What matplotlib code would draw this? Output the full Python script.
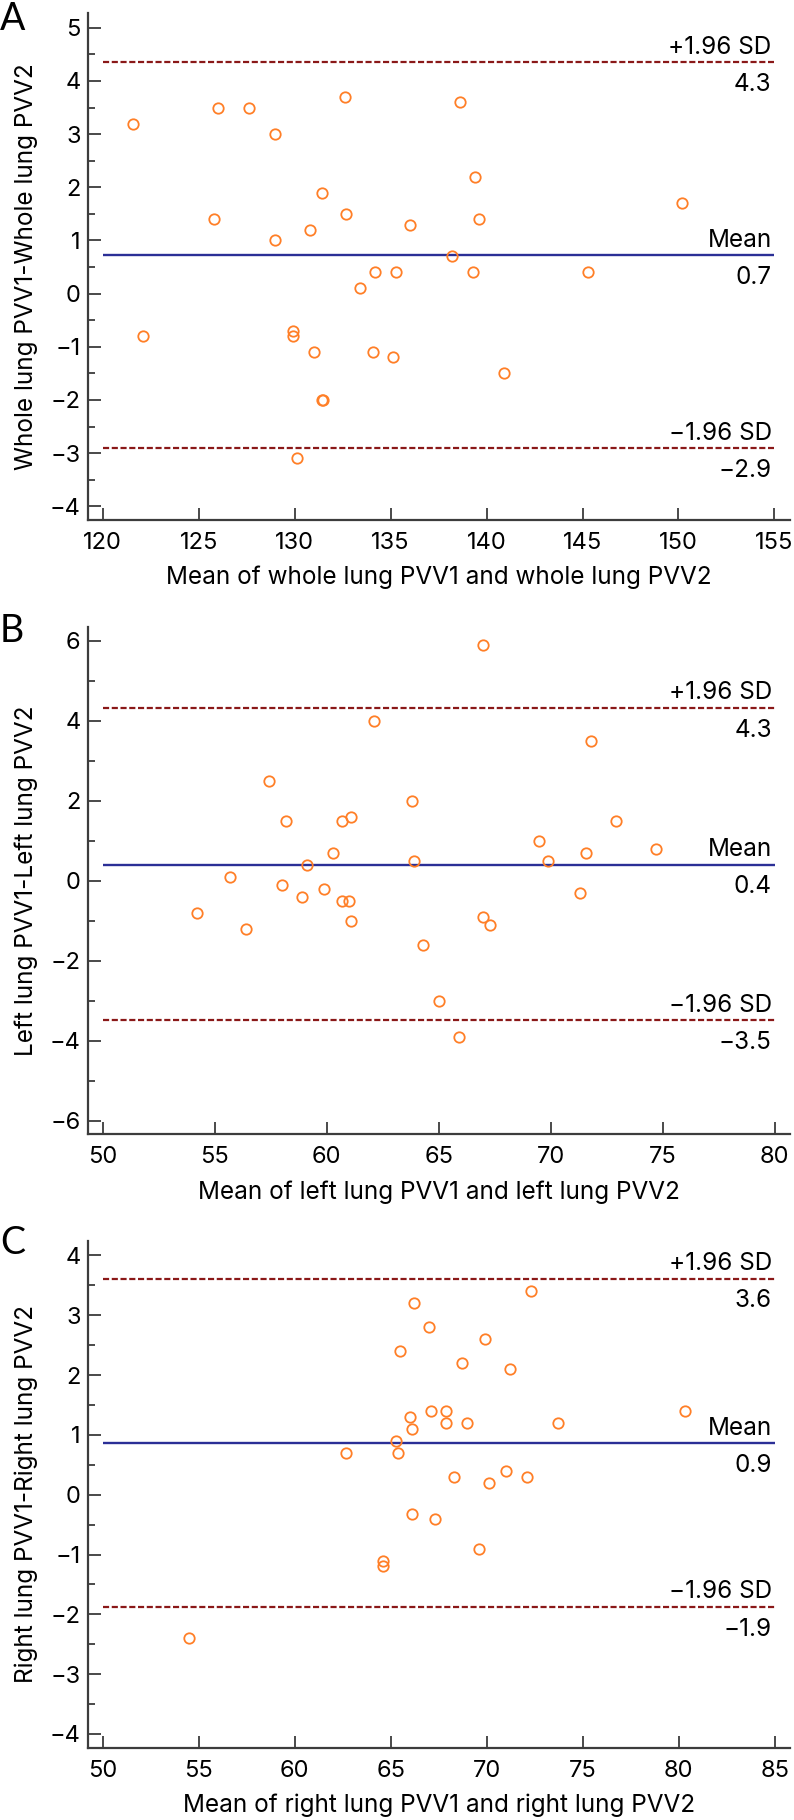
import matplotlib
matplotlib.use("Agg")
import matplotlib.pyplot as plt
from matplotlib.ticker import MultipleLocator

plt.rcParams["font.family"] = ["Inter", "Liberation Sans", "DejaVu Sans"]

# ---- Panel A: whole lung ----
a_mean = [121.6, 122.1, 125.8, 126.0, 127.6, 129.0, 129.0, 129.9, 129.9, 130.1,
          130.8, 131.0, 131.4, 131.4, 131.5, 132.6, 132.7, 133.4, 134.1, 134.2,
          135.1, 135.3, 136.0, 138.2, 138.6, 139.3, 139.4, 139.6, 140.9, 145.3,
          150.2]
a_diff = [3.2, -0.8, 1.4, 3.5, 3.5, 3.0, 1.0, -0.7, -0.8, -3.1,
          1.2, -1.1, 1.9, -2.0, -2.0, 3.7, 1.5, 0.1, -1.1, 0.4,
          -1.2, 0.4, 1.3, 0.7, 3.6, 0.4, 2.2, 1.4, -1.5, 0.4,
          1.7]
a_lines = [4.35, 0.72, -2.91]
a_labels = ["4.3", "0.7", "\u22122.9"]

# ---- Panel B: left lung ----
b_mean = [54.2, 55.7, 56.4, 57.4, 58.2, 58.0, 58.9, 59.1, 59.9, 60.3,
          60.7, 61.1, 60.7, 61.0, 61.1, 62.1, 63.8, 63.9, 64.3, 65.0,
          65.9, 67.0, 67.0, 67.3, 69.5, 69.9, 71.3, 71.6, 71.8, 72.9,
          74.7]
b_diff = [-0.8, 0.1, -1.2, 2.5, 1.5, -0.1, -0.4, 0.4, -0.2, 0.7,
          1.5, 1.6, -0.5, -0.5, -1.0, 4.0, 2.0, 0.5, -1.6, -3.0,
          -3.9, 5.9, -0.9, -1.1, 1.0, 0.5, -0.3, 0.7, 3.5, 1.5,
          0.8]
b_lines = [4.32, 0.40, -3.49]
b_labels = ["4.3", "0.4", "\u22123.5"]

# ---- Panel C: right lung ----
c_mean = [54.5, 62.7, 64.6, 64.6, 65.3, 65.4, 65.5, 66.0, 66.1, 66.2,
          66.1, 67.0, 67.1, 67.3, 67.9, 67.9, 68.3, 68.7, 69.0, 69.6,
          69.9, 70.1, 71.0, 71.2, 72.1, 72.3, 73.7, 80.3]
c_diff = [-2.4, 0.7, -1.1, -1.2, 0.9, 0.7, 2.4, 1.3, 1.1, 3.2,
          -0.33, 2.8, 1.4, -0.4, 1.4, 1.2, 0.3, 2.2, 1.2, -0.9,
          2.6, 0.2, 0.4, 2.1, 0.3, 3.4, 1.2, 1.4]
c_lines = [3.61, 0.86, -1.88]
c_labels = ["3.6", "0.9", "\u22121.9"]

ORANGE = "#ff7f27"
BLUE = "#2b2f96"
DRED = "#8a1818"
SPINE = "#3c3c3c"
FS = 17


def bland_altman(ax, x, y, lines, labels, xlim, xticks, ylim, ystep,
                 xlabel, ylabel):
    ax.plot(x, y, "o", ms=7.5, mfc="none", mec=ORANGE, mew=1.3, zorder=3)

    x0, x1 = xticks[0], xticks[-1]
    lw_d = 1.6
    ax.hlines([lines[0], lines[2]], x0, x1, colors=DRED, lw=lw_d,
              linestyles=[(0, (4.4 / lw_d, 1.9 / lw_d))])
    ax.hlines(lines[1], x0, x1, colors=BLUE, lw=1.7)

    tops = ["+1.96 SD", "Mean", "\u22121.96 SD"]
    for yv, t, b in zip(lines, tops, labels):
        ax.annotate(t, (x1, yv), xytext=(-2, 6.3), textcoords="offset points",
                    ha="right", va="baseline", fontsize=FS + 0.5)
        ax.annotate(b, (x1, yv), xytext=(-2, -20.7), textcoords="offset points",
                    ha="right", va="baseline", fontsize=FS + 0.5)

    ax.set_xlim(*xlim)
    ax.set_ylim(*ylim)
    ax.set_xticks(xticks)
    ax.yaxis.set_major_locator(MultipleLocator(ystep))
    ax.yaxis.set_minor_locator(MultipleLocator(ystep / 2))

    for s in ["top", "right"]:
        ax.spines[s].set_visible(False)
    for s in ["left", "bottom"]:
        ax.spines[s].set_color(SPINE)
        ax.spines[s].set_linewidth(1.6)

    ax.tick_params(axis="both", which="both", direction="in", color=SPINE,
                   width=1.3, labelsize=FS)
    ax.tick_params(axis="y", which="major", length=9.6, pad=5)
    ax.tick_params(axis="y", which="minor", length=4.8)
    ax.tick_params(axis="x", which="major", length=8.4, pad=8.5)

    ax.set_xlabel(xlabel, fontsize=FS + 0.5)
    ax.set_ylabel(ylabel, fontsize=FS + 0.5)
    ax.yaxis.set_label_coords(-0.0706, 0.5)
    ax.xaxis.set_label_coords(0.5, -0.0904)


fig = plt.figure(figsize=(7.94, 18.2), dpi=100)

axA = fig.add_axes([0.1103, 0.7142, 0.8844, 0.2784])
bland_altman(axA, a_mean, a_diff, a_lines, a_labels, (119.21, 155.8),
             [120, 125, 130, 135, 140, 145, 150, 155], (-4.26, 5.27), 1,
             "Mean of whole lung PVV1 and whole lung PVV2",
             "Whole lung PVV1-Whole lung PVV2")

axB = fig.add_axes([0.1103, 0.3768, 0.8844, 0.2788])
bland_altman(axB, b_mean, b_diff, b_lines, b_labels, (49.32, 80.68),
             [50, 55, 60, 65, 70, 75, 80], (-6.34, 6.35), 2,
             "Mean of left lung PVV1 and left lung PVV2",
             "Left lung PVV1-Left lung PVV2")

axC = fig.add_axes([0.1103, 0.0397, 0.8844, 0.2784])
bland_altman(axC, c_mean, c_diff, c_lines, c_labels, (49.22, 85.78),
             [50, 55, 60, 65, 70, 75, 80, 85], (-4.23, 4.24), 1,
             "Mean of right lung PVV1 and right lung PVV2",
             "Right lung PVV1-Right lung PVV2")

for letter, ybase in [("A", 30), ("B", 642), ("C", 1254)]:
    fig.text(0.0, 1 - ybase / 1820, letter, ha="left", va="baseline",
             fontsize=27, family=["Lato", "DejaVu Sans"])

fig.savefig("out.png", dpi=100)
